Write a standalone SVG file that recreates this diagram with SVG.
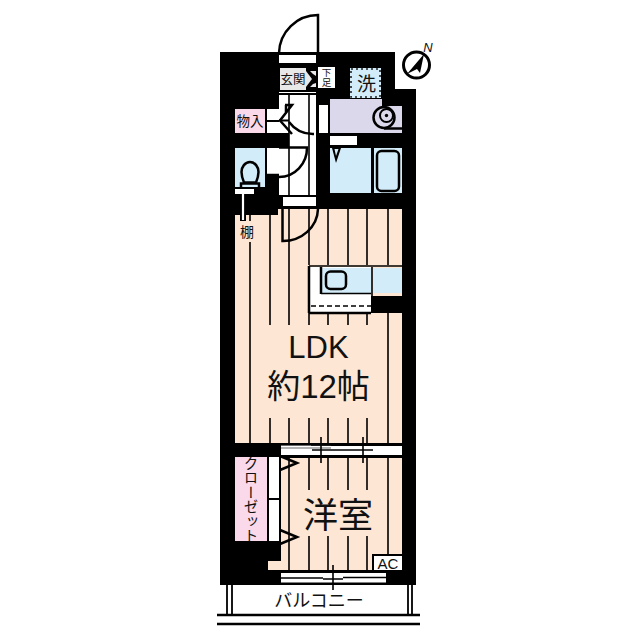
<svg xmlns="http://www.w3.org/2000/svg" width="640" height="640" viewBox="0 0 640 640">
<style>
.k{fill:#000}.w{fill:#fff}.fl{fill:#fde6d3}.bl{fill:#d3ecf9}.pk{fill:#fad9ea}.lv{fill:#dcd8ec}.gy{fill:#e8e8e8}
.ln{fill:none;stroke:#000;stroke-width:2.5}.th{fill:none;stroke:#000;stroke-width:1.6}
text{font-family:"Liberation Sans","Noto Sans CJK JP",sans-serif;fill:#111;text-anchor:middle}
</style>
<rect width="640" height="640" fill="#fff"/>
<g id="walls"><path class="k" d="M220 52H395V89H416V585H220Z"/></g>
<g id="ldk">
<path class="fl" d="M235 215H278V209H402V443H235Z"/>
<path class="th" d="M250 215V221M250 242V443M270 215V325M270 418V443M289 209V325M289 418V443M309 209V265M309 313V325M309 418V443M328 209V265M328 313V325M328 418V443M348 209V265M348 313V325M348 418V443M367 209V265M367 313V325M367 418V443M388 209V265M388 313V443"/>
<text x="318.500" y="358" font-size="31">LDK</text>
<text x="318.500" y="398" font-size="33">約12帖</text>
</g>
<g id="kitchen">
<rect class="w" x="310" y="267" width="61" height="46"/>
<rect class="k" x="371" y="296" width="31" height="17"/>
<rect class="bl" x="321" y="268" width="50" height="25"/>
<rect class="bl" x="373" y="268" width="29" height="25"/>
<path class="ln" d="M309 313V266M309 313H371M321 267V294"/>
<path class="th" d="M309 266H402M321 293.500H371M372 267V296"/>
<path fill="none" stroke="#000" stroke-width="1.600" stroke-dasharray="5 3" d="M311 306H371"/>
<rect class="ln" x="326" y="271.500" width="20" height="17.500" rx="4.500"/>
</g>
<g id="entrance">
<rect class="w" x="279" y="55" width="37" height="8"/>
<rect class="gy" x="280" y="68" width="36" height="22"/>
<path class="k" d="M306 68H316V90H306V87L312 79L306 71Z"/>
<path class="gy" d="M310 71H316V76L313 74ZM316 83V87H310L313 84Z"/>
<path class="ln" d="M318 53V15A39 39 0 0 0 279 53"/>
<text x="293" y="83.500" font-size="12.500">玄関</text>
<rect class="w" x="318" y="67" width="17" height="21"/>
<text x="326.500" y="76" font-size="9.500">下</text>
<text x="326.500" y="86" font-size="9.500">足</text>
</g>
<g id="hall">
<rect class="w" x="279" y="92" width="37" height="103"/>
<rect class="k" x="279" y="93" width="37" height="2"/>
<path class="th" d="M289 95V195M309 95V195"/>
<rect class="w" x="267" y="109" width="12" height="11"/>
<rect class="w" x="267" y="122" width="12" height="11"/>
<rect class="k" x="279" y="119.500" width="10" height="2"/>
<path class="ln" d="M285 105H292L280 120.500L292 134M286 105V113"/>
<path class="ln" d="M289 122A30 30 0 0 0 314 134"/>
<rect class="k" x="279" y="133" width="10" height="15"/>
<rect class="w" x="267" y="148" width="12" height="26"/>
<path class="ln" d="M267 175H279M279 147.500H307A28 29 0 0 1 279 177"/>
<rect class="w" x="283" y="197" width="33" height="9"/>
<path class="ln" d="M282.500 208V241A35 33 0 0 0 318 209"/>
<rect class="w" x="319" y="105" width="9" height="28"/>
</g>
<g id="storage">
<rect class="pk" x="235" y="109" width="30" height="24"/>
<text x="250" y="126" font-size="13.500">物入</text>
</g>
<g id="toilet">
<rect class="bl" x="235" y="148" width="30" height="39"/>
<rect class="w" x="235" y="189" width="19" height="5"/>
<path class="ln" d="M250 162C245 162 241.500 167 241.500 172C241.500 176 243 180 244 182.500H256C257 180 258.500 176 258.500 172C258.500 167 255 162 250 162Z"/>
<path class="ln" d="M241 187V183.500H259V187"/>
<rect class="k" x="240" y="215" width="6" height="6"/>
<path fill="none" stroke="#fff" stroke-width="2.200" d="M243 194V220"/>
</g>
<g id="shelf"><text x="247" y="237" font-size="14">棚</text></g>
<g id="washroom">
<path class="lv" d="M330 99H382V106H402V133H330Z"/>
<circle class="ln" cx="384" cy="117.500" r="10.500"/>
<circle fill="none" stroke="#000" stroke-width="2" cx="386.500" cy="115.500" r="6.500"/>
<circle class="k" cx="386.500" cy="115.500" r="1.700"/>
<path class="ln" d="M384 128.500H402"/>
<rect class="w" x="330" y="136" width="27" height="9"/>
<rect class="bl" x="350" y="68" width="31" height="30"/>
<rect fill="none" stroke="#222" stroke-width="1.600" stroke-dasharray="2 3" x="351" y="69" width="29" height="28"/>
<text x="366.500" y="90.500" font-size="19">洗</text>
</g>
<g id="bath">
<rect class="bl" x="330" y="148" width="41" height="45"/>
<rect class="bl" x="374" y="148" width="28" height="45"/>
<rect class="ln" x="377" y="151" width="22" height="40" rx="4.500"/>
<path class="k" d="M332 148H341L336 163Z"/>
<path class="bl" d="M334.500 149H338.500L336 156Z"/>
</g>
<g id="closet">
<rect class="pk" x="235" y="457" width="32" height="84"/>
<rect class="w" x="269" y="457" width="10" height="41"/>
<rect class="w" x="269" y="500" width="10" height="41"/>
<text x="251" y="499.500" font-size="14.500" style="font-family:'Noto Sans CJK JP',sans-serif;writing-mode:vertical-rl;dominant-baseline:central">クローゼット</text>
</g>
<g id="bedroom">
<path class="fl" d="M281 458H402V570H268V561H281Z"/>
<path class="th" d="M289 458V570M309 458V490M328 458V490M348 458V490M367 458V490M388 458V556M309 536V570M328 536V570M348 536V570M367 536V570"/>
<path class="ln" d="M280 456L297 463L280 470M280 530L297 537L280 544"/>
<rect class="k" x="372" y="554" width="30" height="2"/>
<rect class="k" x="372" y="554" width="2" height="16"/>
<rect class="w" x="374" y="556" width="28" height="14"/>
<text x="388" y="568.500" font-size="15">AC</text>
<text x="338" y="528" font-size="35">洋室</text>
</g>
<g id="windows">
<rect class="w" x="281" y="446" width="121" height="9"/>
<path fill="none" stroke="#666" stroke-width="1.200" d="M281 445.500H331M281 448H331"/>
<path class="th" d="M312 450H373M321 437V463M363 437V463M331 445H311"/>
<rect class="w" x="281" y="573" width="105" height="9.500"/>
<path class="th" d="M281 578H323M323 579H343M333 565V590M343 577.500H386"/>
</g>
<g id="balcony">
<path class="ln" d="M217 615H420M217 624H420"/>
<path fill="none" stroke="#000" stroke-width="1.800" d="M227 585V615M232 585V615M408 585V615M412 585V615"/>
<text x="319" y="607" font-size="18">バルコニー</text>
</g>
<g id="compass">
<circle fill="#fff" stroke="#000" stroke-width="3" cx="416.500" cy="65" r="13"/>
<path class="k" d="M424 54L407 74L417 69L420 73Z"/>
<text x="428" y="52" font-size="13" font-style="italic">N</text>
</g>
</svg>
